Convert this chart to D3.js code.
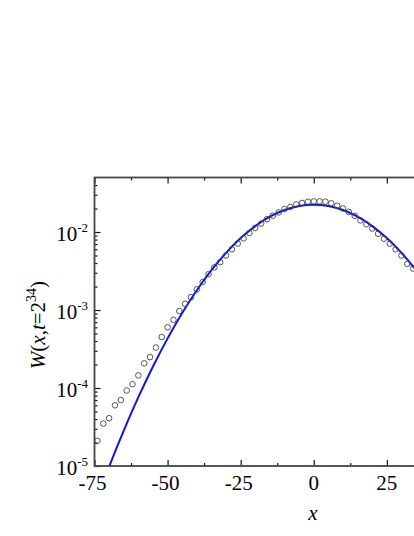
<!DOCTYPE html>
<html>
<head>
<meta charset="utf-8">
<script src="https://cdn.jsdelivr.net/npm/d3@7"></script>
<style>
    body { margin: 0; background: #fff; overflow: hidden; }
    text { font-family: "Liberation Serif", "Times New Roman", serif; fill: #000; }
</style>
</head>
<body>
<div id="chart"></div>
<script>
// simulation points (open circles)
const simX = [-74, -72, -70, -68, -66, -64, -62, -60, -58, -56, -54, -52, -50, -48, -46, -44,
    -42, -40, -38, -36, -34, -32, -30, -28, -26, -24, -22, -20, -18, -16, -14, -12, -10, -8,
    -6, -4, -2, 0, 2, 4, 6, 8, 10, 12, 14, 16, 18, 20, 22, 24, 26, 28, 30, 32, 34];
const simW = [2.1e-5, 3.5e-5, 4.1e-5, 6.0e-5, 7.0e-5, 9.3e-5, 1.12e-4, 1.45e-4, 2.07e-4, 2.49e-4,
    3.3e-4, 4.5e-4, 6.0e-4, 7.5e-4, 9.7e-4, 1.2e-3, 1.46e-3, 1.84e-3, 2.28e-3, 2.88e-3, 3.52e-3,
    4.11e-3, 5.0e-3, 6.0e-3, 7.1e-3, 8.3e-3, 9.7e-3, 1.13e-2, 1.28e-2, 1.46e-2, 1.62e-2, 1.78e-2,
    1.97e-2, 2.10e-2, 2.26e-2, 2.36e-2, 2.45e-2, 2.47e-2, 2.47e-2, 2.45e-2, 2.34e-2, 2.17e-2,
    2.0e-2, 1.81e-2, 1.61e-2, 1.41e-2, 1.26e-2, 1.11e-2, 9.5e-3, 8.2e-3, 7.1e-3, 6.0e-3, 5.0e-3,
    3.9e-3, 3.4e-3];

// blue theory curve
const curveX = [-75, -70, -65, -60, -55, -50, -45, -40, -35, -30, -25, -20, -15, -10, -5, 0,
    5, 10, 15, 20, 25, 30, 35, 40, 45, 50, 55, 60, 65, 70, 75];
const curveW = [3.1e-6, 9.8e-6, 2.85e-5, 7.64e-5, 1.89e-4, 4.33e-4, 9.17e-4, 1.79e-3, 3.24e-3,
    5.41e-3, 8.36e-3, 1.192e-2, 1.57e-2, 1.913e-2, 2.153e-2, 2.24e-2, 2.153e-2, 1.913e-2, 1.57e-2,
    1.192e-2, 8.36e-3, 5.41e-3, 3.24e-3, 1.79e-3, 9.17e-4, 4.33e-4, 1.89e-4, 7.64e-5, 2.85e-5,
    9.8e-6, 3.1e-6];

// axis ticks (the plot runs past the right edge of the window, so only these labels show)
const xMajorTicks = [-75, -50, -25, 0, 25, 50, 75];
const xMinorTicks = [-62.5, -37.5, -12.5, 12.5, 37.5, 62.5];
const xTickLabels = [-75, -50, -25, 0, 25];
const yDecades = [1e-5, 1e-4, 1e-3, 1e-2];
const yDecadeLabels = ['-5', '-4', '-3', '-2'];

const config = {
    width: 414,
    height: 536,
    left: 94.5,
    right: 533,
    top: 177.5,
    bottom: 466
};

const svg = d3.select('#chart').append('svg')
    .attr('width', config.width)
    .attr('height', config.height);

const xScale = d3.scaleLinear()
    .domain([-75, 75])
    .range([config.left, config.right]);

const yScale = d3.scaleLog()
    .domain([1e-5, 0.05])
    .range([config.bottom, config.top]);

// minor log ticks 2..9 per decade
const yMinorTicks = yScale.ticks().filter(d => yDecades.indexOf(d) < 0 && d < 0.05);

svg.append('clipPath').attr('id', 'plot-clip')
    .append('rect')
    .attr('x', config.left)
    .attr('y', config.top)
    .attr('width', config.right - config.left)
    .attr('height', config.bottom - config.top);

const plot = svg.append('g').attr('clip-path', 'url(#plot-clip)');

// Theory line
const line = d3.line()
    .x((d, i) => xScale(curveX[i]))
    .y(d => yScale(d))
    .curve(d3.curveNatural);

plot.append('path')
    .datum(curveW)
    .attr('d', line)
    .attr('fill', 'none')
    .attr('stroke', '#0a14f5')
    .attr('stroke-width', 2);

// simulation circles
svg.append('g').selectAll('circle')
    .data(simW)
    .join('circle')
    .attr('cx', (d, i) => xScale(simX[i]))
    .attr('cy', d => yScale(d))
    .attr('r', 2.8)
    .attr('fill', 'none')
    .attr('stroke', '#444')
    .attr('stroke-width', 0.9);

// axes - ticks pointing inward
const axisColor = '#444';

function styleAxis(g) {
    g.select('.domain').remove();
    g.selectAll('line').attr('stroke', '#111').attr('stroke-width', 1.2);
}

// bottom
svg.append('g')
    .attr('transform', `translate(0,${config.bottom})`)
    .call(d3.axisBottom(xScale).tickValues(xMajorTicks).tickSize(-6).tickFormat(''))
    .call(styleAxis);
svg.append('g')
    .attr('transform', `translate(0,${config.bottom})`)
    .call(d3.axisBottom(xScale).tickValues(xMinorTicks).tickSize(-3).tickFormat(''))
    .call(styleAxis);
// top
svg.append('g')
    .attr('transform', `translate(0,${config.top})`)
    .call(d3.axisTop(xScale).tickValues(xMajorTicks).tickSize(-6).tickFormat(''))
    .call(styleAxis);
svg.append('g')
    .attr('transform', `translate(0,${config.top})`)
    .call(d3.axisTop(xScale).tickValues(xMinorTicks).tickSize(-3).tickFormat(''))
    .call(styleAxis);
// left
svg.append('g')
    .attr('transform', `translate(${config.left},0)`)
    .call(d3.axisLeft(yScale).tickValues(yDecades).tickSize(-6).tickFormat(''))
    .call(styleAxis);
svg.append('g')
    .attr('transform', `translate(${config.left},0)`)
    .call(d3.axisLeft(yScale).tickValues(yMinorTicks).tickSize(-3).tickFormat(''))
    .call(styleAxis);

// frame
svg.append('rect')
    .attr('x', config.left)
    .attr('y', config.top)
    .attr('width', config.right - config.left)
    .attr('height', config.bottom - config.top)
    .attr('fill', 'none')
    .attr('stroke', axisColor)
    .attr('stroke-width', 1.8);

// x tick labels
svg.append('g').selectAll('text')
    .data(xTickLabels)
    .join('text')
    .attr('x', d => xScale(d) - (d < 0 ? 2 : 0))
    .attr('y', 490)
    .attr('text-anchor', 'middle')
    .style('font-size', '21px')
    .text(d => d);

// y tick labels 10^n
const yLabels = svg.append('g').selectAll('text')
    .data(yDecades)
    .join('text')
    .attr('x', 88)
    .attr('y', d => yScale(d) + 8.5)
    .attr('text-anchor', 'end')
    .style('font-size', '21px');
yLabels.append('tspan').text('10');
yLabels.append('tspan')
    .attr('dy', -9)
    .style('font-size', '13px')
    .text((d, i) => yDecadeLabels[i]);

// axis titles
svg.append('text')
    .attr('x', 313)
    .attr('y', 520)
    .attr('text-anchor', 'middle')
    .style('font-size', '21px')
    .style('font-style', 'italic')
    .text('x');

const yTitle = svg.append('text')
    .attr('transform', 'translate(45,325) rotate(-90)')
    .attr('text-anchor', 'middle')
    .style('font-size', '21px');
yTitle.append('tspan').style('font-style', 'italic').text('W');
yTitle.append('tspan').text('(');
yTitle.append('tspan').style('font-style', 'italic').text('x');
yTitle.append('tspan').text(',');
yTitle.append('tspan').style('font-style', 'italic').text('t');
yTitle.append('tspan').text('=2');
yTitle.append('tspan').attr('dy', -9).style('font-size', '14px').text('34');
yTitle.append('tspan').attr('dy', 9).text(')');
</script>
</body>
</html>
